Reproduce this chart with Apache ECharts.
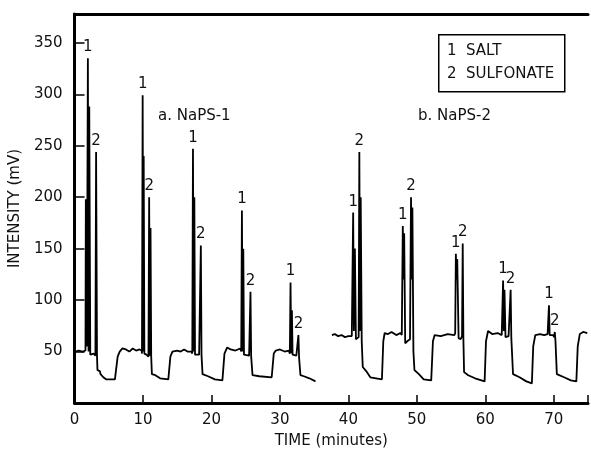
<!DOCTYPE html>
<html>
<head>
<meta charset="utf-8">
<script src="https://cdn.jsdelivr.net/npm/echarts@6/dist/echarts.min.js"></script>
<style>
  html, body { margin: 0; padding: 0; background: #fff; }
  #chart { width: 591px; height: 455px; }
</style>
</head>
<body>
<div id="chart"></div>
<script>
// tick labels
const xTicks = [0, 10, 20, 30, 40, 50, 60, 70];
const yTicks = [50, 100, 150, 200, 250, 300, 350];

// trace a. NaPS-1  [time (min), intensity (mV)]
const traceA = [
  [0.15, 50], [0.6, 51], [1.2, 50], [1.6, 51],
  [1.65, 198], [1.75, 196], [1.8, 55], [1.95, 335], [2.05, 50], [2.15, 288], [2.3, 47], [2.8, 48],
  [3.05, 46], [3.15, 244], [3.28, 46], [3.35, 32], [3.7, 31], [3.8, 28], [4.2, 25], [4.6, 23], [5.9, 23],
  [6.3, 45], [6.6, 50], [7.0, 53], [7.5, 52], [8.0, 50], [8.5, 53], [9.0, 51], [9.5, 52], [9.8, 51],
  [9.85, 48], [9.95, 299], [10.05, 50], [10.1, 240], [10.2, 48], [10.5, 47],
  [10.8, 45], [10.9, 200], [11.0, 46], [11.1, 170], [11.2, 45], [11.3, 28], [11.8, 27], [12.5, 24], [13.7, 23],
  [14.0, 45], [14.3, 50], [15.0, 51], [15.5, 50], [16.0, 52], [16.5, 50], [17.1, 50],
  [17.2, 48], [17.3, 247], [17.4, 50], [17.5, 200], [17.6, 47], [18.2, 47],
  [18.35, 48], [18.45, 153], [18.55, 46], [18.7, 28], [19.5, 26], [20.5, 23], [21.6, 22],
  [21.9, 48], [22.3, 54], [22.8, 52], [23.5, 51], [24.2, 53],
  [24.35, 50], [24.45, 187], [24.55, 50], [24.65, 150], [24.75, 47], [25.5, 46],
  [25.6, 47], [25.7, 108], [25.8, 45], [26.0, 27], [27.0, 26], [28.8, 25],
  [29.1, 48], [29.4, 51], [30.0, 52], [30.7, 50], [31.3, 51],
  [31.45, 48], [31.55, 117], [31.65, 48], [31.75, 90], [31.85, 47], [32.4, 46],
  [32.6, 45], [32.7, 66], [32.8, 44], [33.0, 27], [33.5, 26], [34.3, 24], [35.2, 21]
];

// trace b. NaPS-2
const traceB = [
  [37.6, 66], [38.0, 67], [38.5, 65], [39.0, 66], [39.5, 64], [40.0, 65], [40.5, 65],
  [40.6, 65], [40.7, 185], [40.8, 70], [40.95, 150], [41.1, 62], [41.3, 63],
  [41.5, 64], [41.6, 244], [41.7, 70], [41.8, 200], [41.95, 60], [42.1, 35], [42.6, 31], [43.2, 25], [44.9, 23],
  [45.1, 60], [45.3, 68], [45.8, 67], [46.3, 69], [47.0, 66], [47.6, 68],
  [47.8, 66], [47.95, 172], [48.05, 120], [48.15, 165], [48.3, 58], [48.6, 60],
  [49.0, 62], [49.15, 200], [49.25, 120], [49.35, 190], [49.5, 50], [49.65, 32], [50.3, 28], [51.0, 23], [52.1, 22],
  [52.35, 60], [52.6, 66], [53.5, 65], [54.5, 67], [55.5, 66],
  [55.6, 68], [55.7, 145], [55.8, 120], [55.9, 140], [56.1, 63], [56.4, 62],
  [56.6, 65], [56.7, 155], [56.8, 62], [56.9, 30], [57.5, 27], [58.5, 24], [59.9, 21],
  [60.1, 60], [60.4, 70], [61.0, 67], [61.8, 68], [62.4, 66],
  [62.5, 66], [62.6, 119], [62.7, 70], [62.8, 110], [62.95, 64], [63.4, 65],
  [63.6, 66], [63.7, 110], [63.8, 63], [64.05, 28], [65.0, 25], [66.0, 21], [66.8, 19],
  [67.0, 55], [67.3, 66], [68.0, 67], [68.6, 66], [69.1, 67],
  [69.2, 68], [69.3, 95], [69.4, 66], [69.9, 66],
  [70.05, 64], [70.15, 69], [70.25, 60], [70.45, 28], [71.5, 25], [72.5, 22], [73.3, 21],
  [73.5, 55], [73.8, 67], [74.3, 69], [74.9, 68]
];

// peak markers: 1 = salt, 2 = sulfonate
const peakTimes = [1.95, 3.15, 9.95, 10.9, 17.3, 18.45, 24.45, 25.7, 31.55, 32.7,
                   40.7, 41.6, 47.95, 49.15, 55.7, 56.7, 62.6, 63.7, 69.3, 70.15];
const peakTops = [335, 244, 299, 200, 247, 153, 187, 108, 117, 66,
                  185, 244, 172, 200, 145, 155, 119, 110, 95, 69];
const peakIds = ['1', '2', '1', '2', '1', '2', '1', '2', '1', '2',
                 '1', '2', '1', '2', '1', '2', '1', '2', '1', '2'];

const font = 'DejaVu Sans';
const chart = echarts.init(document.getElementById('chart'));

const option = {
  animation: false,
  backgroundColor: '#fff',
  textStyle: { fontFamily: font, color: '#111' },
  grid: { left: 72, right: 0, top: 14, bottom: 52 },
  xAxis: [
    {
      type: 'value',
      min: 0,
      max: 75,
      interval: 10,
      name: 'TIME (minutes)',
      nameLocation: 'middle',
      nameGap: 31,
      nameTextStyle: { fontSize: 15, color: '#111', fontFamily: font },
      axisLine: { show: true, lineStyle: { color: '#000', width: 3 } },
      axisTick: { show: true, inside: true, length: 8, lineStyle: { color: '#000', width: 1.5 } },
      axisLabel: {
        fontSize: 15, color: '#111', margin: 10, fontFamily: font,
        formatter: v => (xTicks.includes(v) ? String(v) : '')
      },
      splitLine: { show: false }
    },
    {
      type: 'value',
      position: 'top',
      min: 0,
      max: 75,
      axisLine: { show: true, lineStyle: { color: '#000', width: 3 } },
      axisTick: { show: false },
      axisLabel: { show: false },
      splitLine: { show: false }
    }
  ],
  yAxis: {
    type: 'value',
    min: 0,
    max: 378,
    interval: 50,
    name: 'INTENSITY (mV)',
    nameLocation: 'middle',
    nameGap: 45,
    nameTextStyle: { fontSize: 15, color: '#111', fontFamily: font },
    axisLine: { show: true, lineStyle: { color: '#000', width: 3 } },
    axisTick: { show: true, inside: true, length: 10, lineStyle: { color: '#000', width: 1.5 } },
    axisLabel: {
      fontSize: 15, color: '#111', margin: 12, fontFamily: font,
      formatter: v => (yTicks.includes(v) ? String(v) : '')
    },
    splitLine: { show: false }
  },
  series: [
    {
      name: 'a. NaPS-1',
      type: 'line',
      data: traceA,
      showSymbol: false,
      lineStyle: { color: '#000', width: 1.8 }
    },
    {
      name: 'b. NaPS-2',
      type: 'line',
      data: traceB,
      showSymbol: false,
      lineStyle: { color: '#000', width: 1.8 }
    },
    {
      name: 'peaks',
      type: 'scatter',
      symbolSize: 1,
      itemStyle: { color: 'rgba(0,0,0,0)', opacity: 1 },
      data: peakTimes.map((t, i) => ({ value: [t, peakTops[i]], name: peakIds[i] })),
      label: {
        show: true,
        position: 'top',
        distance: 3,
        formatter: p => p.name,
        fontSize: 15,
        color: '#111',
        fontFamily: font
      }
    }
  ],
  graphic: [
    { type: 'text', left: 158, top: 109, style: { text: 'a. NaPS-1', font: '15px "DejaVu Sans"', fill: '#111' } },
    { type: 'text', left: 418, top: 109, style: { text: 'b. NaPS-2', font: '15px "DejaVu Sans"', fill: '#111' } },
    {
      type: 'rect',
      left: 438, top: 34,
      shape: { width: 126, height: 57 },
      style: { fill: '#fff', stroke: '#000', lineWidth: 1.5 }
    },
    { type: 'text', left: 447, top: 44, style: { text: '1', font: '15px "DejaVu Sans"', fill: '#111' } },
    { type: 'text', left: 466, top: 44, style: { text: 'SALT', font: '15px "DejaVu Sans"', fill: '#111' } },
    { type: 'text', left: 447, top: 67, style: { text: '2', font: '15px "DejaVu Sans"', fill: '#111' } },
    { type: 'text', left: 466, top: 67, style: { text: 'SULFONATE', font: '15px "DejaVu Sans"', fill: '#111' } }
  ]
};

chart.setOption(option);
</script>
</body>
</html>
